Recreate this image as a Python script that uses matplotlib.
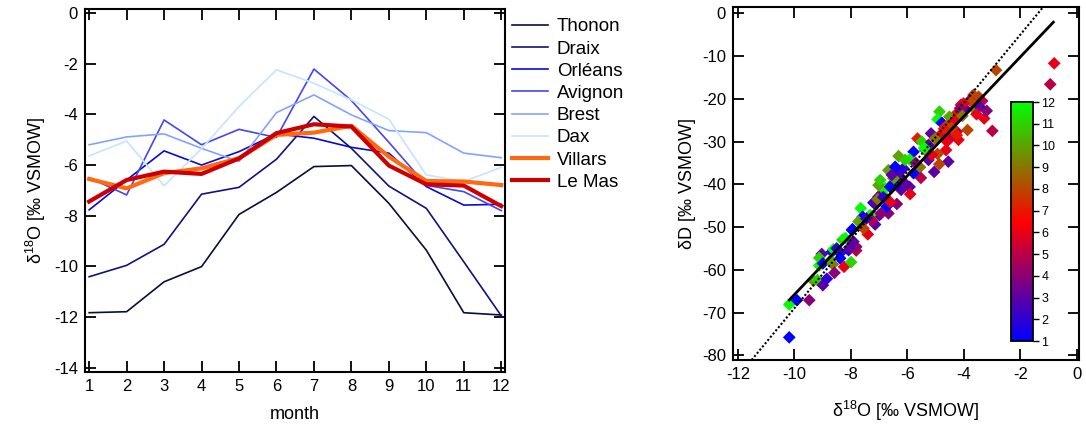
import matplotlib
matplotlib.use("Agg")
import matplotlib.pyplot as plt
from matplotlib.colors import LinearSegmentedColormap, Normalize
import numpy as np

plt.rcParams['font.family'] = ['Liberation Sans', 'DejaVu Sans']
plt.rcParams['mathtext.fontset'] = 'custom'
plt.rcParams['mathtext.rm'] = 'Liberation Sans'
plt.rcParams['mathtext.default'] = 'rm'
plt.rcParams['axes.unicode_minus'] = False

# --- monthly mean d18O per station --------------------------------------
months = list(range(1, 13))
thonon = [-11.83, -11.79, -10.61, -10.01, -7.95, -7.08, -6.06, -6.02, -7.51, -9.36, -11.83, -11.92]
draix = [-10.41, -9.96, -9.13, -7.15, -6.88, -5.77, -4.08, -5.34, -6.83, -7.71, -9.82, -11.95]
orleans = [-7.77, -6.59, -5.44, -6.00, -5.47, -4.77, -4.94, -5.30, -5.53, -6.85, -7.58, -7.55]
avignon = [-6.50, -7.18, -4.22, -5.20, -4.59, -4.91, -2.21, -3.45, -5.10, -6.80, -7.05, -7.80]
brest = [-5.20, -4.89, -4.77, -5.34, -5.86, -3.93, -3.23, -4.02, -4.64, -4.72, -5.53, -5.71]
dax = [-5.64, -5.05, -6.82, -5.35, -3.69, -2.24, -2.77, -3.43, -4.19, -6.39, -6.65, -6.09]
villars = [-6.55, -6.92, -6.32, -6.13, -5.73, -4.81, -4.72, -4.45, -5.67, -6.63, -6.65, -6.79]
le_mas = [-7.44, -6.59, -6.26, -6.35, -5.74, -4.74, -4.39, -4.48, -6.02, -6.76, -6.81, -7.62]

station_names = ["Thonon", "Draix", "Orléans", "Avignon", "Brest", "Dax", "Villars", "Le Mas"]
station_series = [thonon, draix, orleans, avignon, brest, dax, villars, le_mas]
station_colors = ["#0c0c40", "#12127a", "#0a0ad2", "#4646ee", "#86a2ff", "#c4e4ff",
                  "#ff6a10", "#cc0000"]
station_widths = [1.2, 1.2, 1.2, 1.2, 1.2, 1.2, 3.0, 3.0]

# --- individual samples: d18O, dD, month --------------------------------
d18o = [-10.18, -10.18, -9.91, -9.47, -9.32, -9.18, -8.99, -8.85, -9.03, -9.12,
        -9.12, -8.99, -8.64, -8.58, -8.67, -8.62, -8.38, -8.38, -8.24, -8.08,
        -7.99, -8.30, -7.96, -7.81, -7.81, -7.65, -7.58, -7.73, -7.40, -7.55,
        -7.14, -6.99, -6.67, -6.37, -7.32, -7.20, -7.94, -7.26, -7.14, -6.93,
        -6.73, -6.90, -6.79, -6.53, -6.61, -6.22, -6.67, -6.49, -6.26, -6.31,
        -6.14, -8.20, -7.91, -8.05, -2.86, -3.28, -2.99, -3.87, -3.60, -3.48,
        -3.66, -3.78, -3.92, -4.10, -4.25, -4.86, -4.93, -4.51, -4.78, -4.63,
        -4.37, -4.19, -4.25, -4.48, -4.63, -4.55, -4.93, -4.87, -5.05, -5.16,
        -4.84, -5.02, -5.64, -5.49, -5.31, -5.37, -5.25, -5.13, -5.78, -5.92,
        -6.31, -5.55, -5.52, -5.78, -6.14, -6.37, -6.49, -5.92, -5.90, -6.61,
        -7.02, -0.80, -0.94, -3.72, -4.01, -4.13, -4.31, -4.43, -4.25, -4.60,
        -5.25, -6.08, -6.43, -6.55, -7.02, -6.96, -3.19, -3.35, -3.45,
        -8.50, -8.72, -7.45, -7.05, -6.85, -5.70, -5.40, -4.70, -4.05, -3.55]
dD = [-75.8, -68.1, -67.1, -67.1, -62.6, -62.4, -63.6, -62.1, -56.3, -57.2,
      -59.0, -58.5, -58.7, -60.7, -55.8, -55.2, -56.1, -57.3, -59.3, -55.4,
      -58.2, -53.0, -50.7, -55.5, -54.6, -45.6, -47.6, -48.7, -51.7, -50.3,
      -49.4, -47.2, -46.8, -44.6, -47.2, -44.3, -50.5, -48.4, -44.4, -46.8,
      -45.2, -42.1, -40.9, -39.8, -44.1, -41.3, -36.7, -37.8, -38.2, -40.2,
      -39.4, -52.6, -53.4, -54.8, -13.3, -24.6, -27.5, -27.3, -22.6, -19.5,
      -19.1, -20.3, -22.5, -21.4, -23.4, -23.0, -24.8, -24.2, -25.6, -26.4,
      -25.4, -29.6, -27.7, -29.2, -32.0, -34.7, -32.9, -35.3, -37.1, -28.1,
      -28.5, -29.3, -29.3, -30.0, -31.2, -32.0, -34.3, -33.1, -32.4, -34.2,
      -33.4, -36.0, -38.5, -37.4, -36.3, -36.7, -38.6, -40.6, -42.3, -40.6,
      -42.9, -11.7, -16.6, -20.7, -21.1, -22.2, -25.0, -26.9, -28.5, -30.0,
      -30.8, -34.3, -35.9, -37.8, -40.2, -39.0, -22.8, -20.5, -21.8,
      -55.0, -57.8, -48.0, -43.5, -43.0, -35.0, -31.5, -27.0, -24.0, -23.6]
sample_month = [1, 12, 1, 4, 10, 11, 3, 2, 3, 11,
                12, 1, 9, 4, 1, 12, 2, 1, 6, 2,
                11, 11, 1, 5, 4, 12, 1, 10, 6, 8,
                3, 3, 4, 4, 12, 1, 1, 5, 3, 4,
                1, 11, 12, 11, 6, 3, 10, 9, 3, 2,
                3, 12, 3, 3, 8, 6, 5, 8, 10, 8,
                8, 4, 3, 6, 7, 11, 12, 10, 1, 8,
                7, 6, 5, 5, 6, 3, 8, 8, 3, 3,
                6, 9, 7, 11, 10, 9, 3, 6, 1, 12,
                10, 9, 5, 1, 2, 2, 10, 3, 6, 1,
                3, 6, 5, 8, 6, 4, 6, 8, 7, 6,
                3, 11, 1, 3, 10, 11, 4, 5, 3,
                2, 10, 2, 9, 2, 4, 12, 7, 9, 6]

# regression (local meteoric water line) and global meteoric water line
lmwl_slope, lmwl_intercept = 6.95, 3.69
lmwl_range = [-10.18, -0.83]
gmwl_slope, gmwl_intercept = 8.0, 11.0

month_cmap = LinearSegmentedColormap.from_list(
    "month", [(0.0, (0, 0, 1)), (0.5, (1, 0, 0)), (1.0, (0, 1, 0))])

fig = plt.figure(figsize=(10.86, 4.26), dpi=100)
ax1 = fig.add_axes([0.0783, 0.1268, 0.3867, 0.852])
ax2 = fig.add_axes([0.675, 0.1549, 0.3186, 0.8286])
cax = fig.add_axes([0.931, 0.1995, 0.0203, 0.561])

for name, ys, c, lw in zip(station_names, station_series, station_colors, station_widths):
    ax1.plot(months, ys, color=c, lw=lw, label=name)

ax1.set_xlim(0.89, 12.1)
ax1.set_ylim(-14.17, 0.16)
ax1.set_xticks(months)
ax1.set_yticks(range(-14, 1, 2))
ax1.set_xlabel("month", fontsize=13, labelpad=9)
ax1.set_ylabel(r"δ$^{18}$O [‰ VSMOW]", fontsize=13)
ax1.legend(loc="upper left", bbox_to_anchor=(1.003, 0.99), frameon=False, fontsize=13.5,
           borderaxespad=0.0, borderpad=0.3, handlelength=1.95, handletextpad=0.45,
           labelspacing=0.27)

norm = Normalize(vmin=1, vmax=12)
ax2.scatter(d18o, dD, c=sample_month, cmap=month_cmap, norm=norm, marker="D",
            s=42, linewidths=0, zorder=2)
lx = np.array(lmwl_range)
ax2.plot(lx, lmwl_slope * lx + lmwl_intercept, color="black", lw=2, zorder=3)
ax2.axline((0, gmwl_intercept), slope=gmwl_slope, color="black", lw=1.5,
           ls=(0, (1, 1)), zorder=3)
ax2.set_xlim(-12.17, 0.08)
ax2.set_ylim(-81.1, 1.47)
ax2.set_xticks(range(-12, 1, 2))
ax2.set_yticks(range(-80, 1, 10))
ax2.set_xlabel(r"δ$^{18}$O [‰ VSMOW]", fontsize=13, labelpad=12)
ax2.set_ylabel("δD [‰ VSMOW]", fontsize=13)

for ax in (ax1, ax2):
    ax.tick_params(direction="in", length=8, width=1.3, top=True, right=True,
                   labelsize=12, pad=5)
    for sp in ax.spines.values():
        sp.set_linewidth(1.5)

cb = fig.colorbar(plt.cm.ScalarMappable(norm=norm, cmap=month_cmap), cax=cax)
cb.set_ticks(months)
cb.ax.tick_params(direction="out", length=4, width=1, labelsize=9, pad=2)
cb.outline.set_linewidth(1.3)

fig.savefig("out.png", dpi=100)
